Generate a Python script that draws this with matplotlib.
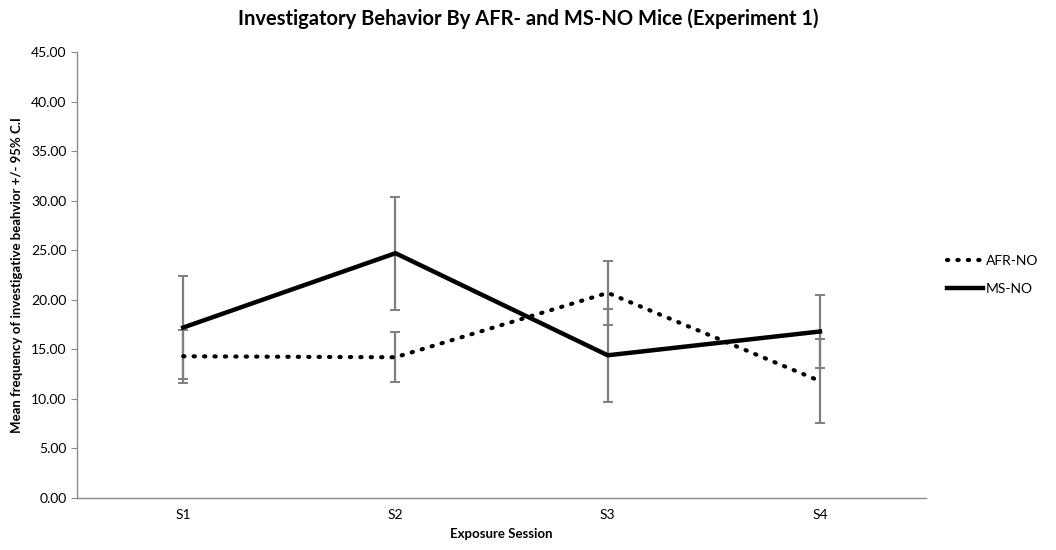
import matplotlib.pyplot as plt
import numpy as np

plt.rcParams['font.family'] = ['Lato', 'DejaVu Sans']

# data
sessions = ['S1', 'S2', 'S3', 'S4']
afr_mean = [14.3, 14.2, 20.7, 11.8]
afr_ci = [2.7, 2.5, 3.2, 4.2]
ms_mean = [17.2, 24.7, 14.4, 16.8]
ms_ci = [5.2, 5.7, 4.7, 3.7]
yticks = np.arange(0, 46, 5)

fig = plt.figure(figsize=(10.56, 5.5), dpi=100)
ax = fig.add_axes([0.073, 0.0945, 0.804, 0.811])

x = np.arange(len(sessions))
ax.errorbar(x, afr_mean, yerr=afr_ci, fmt='none', ecolor='#7f7f7f',
            elinewidth=1.6, capsize=3.5, capthick=1.4, zorder=2)
ax.errorbar(x, ms_mean, yerr=ms_ci, fmt='none', ecolor='#7f7f7f',
            elinewidth=1.6, capsize=3.5, capthick=1.4, zorder=2)
ax.plot(x, afr_mean, color='black', linewidth=3, linestyle=(0, (0.3, 2.2)),
        dash_capstyle='round', label='AFR-NO', zorder=3)
ax.plot(x, ms_mean, color='black', linewidth=3.2, label='MS-NO', zorder=3)

ax.set_xlim(-0.5, 3.5)
ax.set_ylim(0, 45)
ax.set_yticks(yticks)
ax.set_yticklabels(['%.2f' % v for v in yticks])
ax.set_xticks(x)
ax.set_xticklabels(sessions)
ax.tick_params(axis='y', length=4, color='#8a8a8a', labelsize=10)
ax.tick_params(axis='x', length=0, labelsize=10, pad=8)
for s in ['top', 'right']:
    ax.spines[s].set_visible(False)
for s in ['left', 'bottom']:
    ax.spines[s].set_color('#8a8a8a')
    ax.spines[s].set_linewidth(1)

ax.set_xlabel('Exposure Session', fontsize=9.5, fontweight='bold', labelpad=5)
ax.set_ylabel('Mean frequency of investigative beahvior +/- 95% C.I',
              fontsize=9.5, fontweight='bold', labelpad=6)
fig.suptitle('Investigatory Behavior By AFR- and MS-NO Mice (Experiment 1)',
             fontsize=14.5, fontweight='bold', x=0.5, y=0.985)

ax.legend(loc='center left', bbox_to_anchor=(1.01, 0.5), frameon=False,
          fontsize=10, handlelength=2.6, handletextpad=0.2, labelspacing=1.2)

fig.savefig('out.png', dpi=100)
